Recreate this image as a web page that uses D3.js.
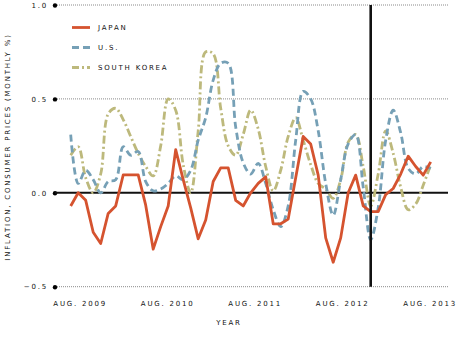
<!DOCTYPE html>
<html>
<head>
<meta charset="utf-8">
<script src="https://cdn.jsdelivr.net/npm/d3@7"></script>
<style>
  html, body { margin: 0; padding: 0; background: #fff; }
  svg { display: block; }
  text { font-family: "DejaVu Sans", sans-serif; font-size: 7px; letter-spacing: 1.8px; fill: #111; }
</style>
</head>
<body>
<svg id="chart" width="461" height="338"></svg>
<script>
// ---- data (monthly % change in consumer prices), Aug 2009 .. Aug 2013 ----
const months = d3.timeMonth.range(new Date(2009, 7, 1), new Date(2013, 8, 1));
const japan = [-0.07, 0.00, -0.04, -0.21, -0.27, -0.11, -0.07, 0.095, 0.095, 0.095,
  -0.066, -0.30, -0.18, -0.07, 0.23, 0.07, -0.08, -0.245, -0.145, 0.06,
  0.133, 0.133, -0.04, -0.07, 0.0, 0.05, 0.085, -0.165, -0.165, -0.14,
  0.08, 0.30, 0.26, 0.094, -0.24, -0.37, -0.24, 0.0, 0.094, -0.07,
  -0.10, -0.10, -0.01, 0.023, 0.10, 0.195, 0.14, 0.094, 0.165];
const us = [0.31, 0.05, 0.12, 0.07, 0.0, 0.06, 0.07, 0.245, 0.20, 0.22,
  0.06, 0.01, 0.02, 0.05, 0.09, 0.07, 0.12, 0.28, 0.40, 0.60,
  0.69, 0.69, 0.35, 0.16, 0.10, 0.157, 0.05, -0.09, -0.18, -0.07,
  0.28, 0.54, 0.50, 0.33, 0.05, -0.12, 0.07, 0.26, 0.31, 0.03,
  -0.25, -0.08, 0.28, 0.44, 0.32, 0.13, 0.10, 0.14, 0.13];
const korea = [0.20, 0.245, 0.08, 0.0, 0.10, 0.42, 0.45, 0.39, 0.30, 0.21,
  0.14, 0.09, 0.25, 0.50, 0.44, 0.15, 0.0, 0.33, 0.75, 0.74,
  0.45, 0.25, 0.20, 0.31, 0.44, 0.34, 0.14, 0.01, 0.12, 0.30,
  0.40, 0.28, 0.15, 0.05, 0.02, -0.03, 0.07, 0.27, 0.31, 0.14,
  -0.07, 0.10, 0.33, 0.21, 0.03, -0.09, -0.06, 0.04, 0.15];
const seriesNames = ["JAPAN", "U.S.", "SOUTH KOREA"];
const yTicks = [1.0, 0.5, 0.0, -0.5];
const xTickLabels = ["AUG. 2009", "AUG. 2010", "AUG. 2011", "AUG. 2012", "AUG. 2013"];
const markerMonth = new Date(2012, 11, 1); // Dec 2012

// ---- layout ----
const svg = d3.select("#chart");
const plotLeft = 55, plotRight = 448;
const x = d3.scaleLinear().domain([0, months.length - 1]).range([70.7, 430.7]);
const y = d3.scaleLinear().domain([-0.5, 1.0]).range([286.7, 5]);
const xLabel = d3.scalePoint().domain(xTickLabels).range([79.7, 429.7]);
const monthIndex = d => months.findIndex(m => +m === +d);

const colors = { japan: "#d5532f", us: "#76a0b6", korea: "#bdb97c" };

// gridlines
const grid = svg.append("g");
yTicks.forEach(v => {
  if (v === 0) return;
  grid.append("line")
    .attr("x1", plotLeft).attr("x2", plotRight)
    .attr("y1", y(v)).attr("y2", y(v))
    .attr("stroke", "#8a8a8a").attr("stroke-width", 1)
    .attr("stroke-dasharray", "1,1");
});

// y axis tick labels and dots
const yAxis = d3.axisLeft(y).tickValues(yTicks).tickSize(0).tickPadding(7)
  .tickFormat(d3.format(".1f"));
const gy = svg.append("g").attr("transform", `translate(${plotLeft},0)`).call(yAxis);
gy.select(".domain").remove();
gy.selectAll("text").attr("font-family", null).attr("font-size", null).attr("fill", null);
gy.selectAll(".tick").append("circle").attr("r", 2.2).attr("fill", "#000");

// zero line
svg.append("line")
  .attr("x1", plotLeft).attr("x2", plotRight)
  .attr("y1", y(0)).attr("y2", y(0))
  .attr("stroke", "#111").attr("stroke-width", 2);

// series lines
const lineLinear = d3.line().x((d, i) => x(i)).y(d => y(d));
const lineSmooth = d3.line().x((d, i) => x(i)).y(d => y(d)).curve(d3.curveCatmullRom.alpha(0.5));

svg.append("path").datum(korea).attr("d", lineSmooth)
  .attr("fill", "none").attr("stroke", colors.korea).attr("stroke-width", 2.8)
  .attr("stroke-dasharray", "8,3,2,3");
svg.append("path").datum(us).attr("d", lineSmooth)
  .attr("fill", "none").attr("stroke", colors.us).attr("stroke-width", 2.8)
  .attr("stroke-dasharray", "7,4");
svg.append("path").datum(japan).attr("d", lineLinear)
  .attr("fill", "none").attr("stroke", colors.japan).attr("stroke-width", 2.8)
  .attr("stroke-linejoin", "round");

// vertical marker line (Dec 2012)
svg.append("line")
  .attr("x1", x(monthIndex(markerMonth))).attr("x2", x(monthIndex(markerMonth)))
  .attr("y1", y(1.0)).attr("y2", y(-0.5))
  .attr("stroke", "#111").attr("stroke-width", 2.6);

// x axis labels
const xAxis = d3.axisBottom(xLabel).tickSize(0).tickPadding(0);
const gx = svg.append("g").attr("transform", `translate(0,301)`).call(xAxis);
gx.select(".domain").remove();
gx.selectAll("text").attr("font-family", null).attr("font-size", null).attr("fill", null)
  .attr("dy", "0.7em");

// axis titles
svg.append("text").attr("x", 229).attr("y", 325).attr("text-anchor", "middle").text("YEAR");
svg.append("text").attr("transform", "translate(10,147) rotate(-90)")
  .attr("text-anchor", "middle").text("INFLATION, CONSUMER PRICES (MONTHLY %)");

// legend
const legend = svg.append("g");
const legendItems = [
  { name: seriesNames[0], color: colors.japan, dash: null },
  { name: seriesNames[1], color: colors.us, dash: "7,4" },
  { name: seriesNames[2], color: colors.korea, dash: "7,3,2,3" }
];
legendItems.forEach((d, i) => {
  const ly = 27.5 + i * 20;
  const l = legend.append("line").attr("x1", 72).attr("x2", 90).attr("y1", ly).attr("y2", ly)
    .attr("stroke", d.color).attr("stroke-width", 2.8);
  if (d.dash) l.attr("stroke-dasharray", d.dash);
  legend.append("text").attr("x", 98).attr("y", ly).attr("dy", "0.35em").text(d.name);
});
</script>
</body>
</html>
